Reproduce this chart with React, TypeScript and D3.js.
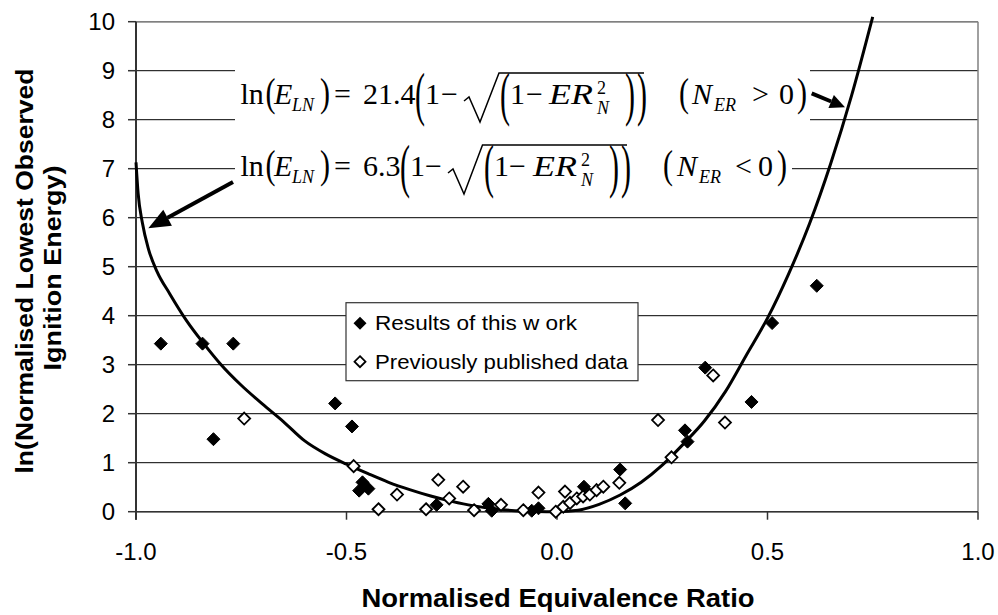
import * as d3 from "d3";

// ln(normalised lowest observed ignition energy) vs normalised equivalence ratio
const W = 998;
const H = 615;

const xTicks = [-1, -0.5, 0, 0.5, 1];
const xTickLabels = ["-1.0", "-0.5", "0.0", "0.5", "1.0"];
const yTicks = [0, 1, 2, 3, 4, 5, 6, 7, 8, 9, 10];

// Results of this work (filled diamonds)
const workX = [-0.941, -0.842, -0.769, -0.816, -0.527, -0.487, -0.462, -0.47, -0.448, -0.286, -0.163, -0.155, -0.06, -0.044, 0.064, 0.15, 0.162, 0.304, 0.31, 0.352, 0.462, 0.511, 0.617];
const workY = [3.43, 3.43, 3.43, 1.48, 2.21, 1.74, 0.6, 0.43, 0.47, 0.14, 0.16, 0.02, 0.02, 0.07, 0.51, 0.86, 0.17, 1.66, 1.43, 2.94, 2.24, 3.85, 4.61];

// Previously published data (open diamonds)
const pubX = [-0.743, -0.483, -0.424, -0.38, -0.311, -0.282, -0.256, -0.223, -0.197, -0.133, -0.08, -0.044, -0.003, 0.015, 0.019, 0.031, 0.047, 0.062, 0.078, 0.094, 0.11, 0.148, 0.24, 0.272, 0.371, 0.399];
const pubY = [1.9, 0.93, 0.05, 0.35, 0.05, 0.65, 0.27, 0.51, 0.03, 0.14, 0.03, 0.39, 0.0, 0.1, 0.41, 0.18, 0.27, 0.31, 0.35, 0.44, 0.51, 0.59, 1.87, 1.11, 2.78, 1.82];

// fitted curve as drawn
const curveX = [-1.0, -0.995, -0.985, -0.97, -0.95, -0.92, -0.88, -0.84, -0.8, -0.75, -0.7, -0.65, -0.6, -0.55, -0.5, -0.45, -0.4, -0.35, -0.3, -0.25, -0.2, -0.15, -0.1, -0.05, 0, 0.05, 0.1, 0.15, 0.2, 0.25, 0.3, 0.35, 0.4, 0.45, 0.5, 0.55, 0.6, 0.65, 0.7, 0.75];
const curveY = [7.13, 6.5, 5.9, 5.35, 4.9, 4.45, 3.9, 3.44, 3.02, 2.58, 2.2, 1.84, 1.45, 1.18, 0.97, 0.78, 0.6, 0.45, 0.32, 0.21, 0.12, 0.06, 0.02, 0.005, 0, 0.03, 0.15, 0.34, 0.6, 0.95, 1.38, 1.85, 2.45, 3.2, 3.95, 4.85, 5.88, 7.1, 8.5, 10.1];

const legendLabels = ["Results of this w ork", "Previously published data"];

const SANS = "'Liberation Sans', Arial, sans-serif";
const SERIF = "'Liberation Serif', 'Times New Roman', serif";

const x = d3.scaleLinear().domain([-1, 1]).range([136, 978]);
const y = d3.scaleLinear().domain([0, 10]).range([511.7, 21.7]);

function diamond(cx: number, cy: number, r: number) {
  return `M${cx},${cy - r}L${cx + r},${cy}L${cx},${cy + r}L${cx - r},${cy}Z`;
}

function arrowHead(x0: number, y0: number, tx: number, ty: number, len: number, hw: number) {
  const dx = tx - x0;
  const dy = ty - y0;
  const d = Math.hypot(dx, dy);
  const ux = dx / d;
  const uy = dy / d;
  const bx = tx - ux * len;
  const by = ty - uy * len;
  return {
    bx,
    by,
    pts: `${tx},${ty} ${bx - uy * hw},${by + ux * hw} ${bx + uy * hw},${by - ux * hw}`,
  };
}

function Arrow({ x0, y0, tx, ty, len, hw }: { x0: number; y0: number; tx: number; ty: number; len: number; hw: number }) {
  const a = arrowHead(x0, y0, tx, ty, len, hw);
  return (
    <g>
      <line x1={x0} y1={y0} x2={a.bx} y2={a.by} stroke="#000" strokeWidth={4} />
      <polygon points={a.pts} fill="#000" />
    </g>
  );
}

// stretched parenthesis centred at cy
function Paren({ ch, px, cy, s }: { ch: string; px: number; cy: number; s: number }) {
  return (
    <text transform={`translate(${px},${cy}) scale(1,${s})`} y={7.5} fontFamily={SERIF} fontSize={30}>
      {ch}
    </text>
  );
}

type EqLayout = {
  B: number;
  coef: string;
  coefX: number;
  p1: number; one1: number; minus1: number;
  rad: number[]; // start, bottom, top, barEnd
  p2: number; one2: number; minus2: number; er: number; sup: number;
  c1: number; c2: number;
  p3: number; n: number; nsub: number; op: string; opX: number; zero: number; c3: number;
};

function Equation({ L }: { L: EqLayout }) {
  const B = L.B;
  const t = (s: string, px: number, opts: { italic?: boolean; size?: number; dy?: number; len?: number } = {}) => (
    <text
      x={px}
      y={B + (opts.dy ?? 0)}
      fontFamily={SERIF}
      fontSize={opts.size ?? 30}
      fontStyle={opts.italic ? "italic" : "normal"}
      textLength={opts.len}
      lengthAdjust={opts.len ? "spacingAndGlyphs" : undefined}
    >
      {s}
    </text>
  );
  const [r0, r1, r2, r3] = L.rad;
  return (
    <g>
      {t("ln", 240.5)}
      <Paren ch="(" px={265.5} cy={B - 8} s={1.3} />
      {t("E", 274, { italic: true })}
      {t("LN", 292, { italic: true, size: 18, dy: 7 })}
      <Paren ch=")" px={320} cy={B - 8} s={1.3} />
      {t("=", 334)}
      {t(L.coef, L.coefX)}
      <Paren ch="(" px={L.p1} cy={B - 5} s={2} />
      {t("1", L.one1)}
      {t("\u2212", L.minus1)}
      <path
        d={`M${r0},${B - 3}L${r0 + 5},${B - 7}L${r1},${B + 18}L${r2},${B - 31}H${r3}`}
        fill="none"
        stroke="#000"
        strokeWidth={1.5}
      />
      <Paren ch="(" px={L.p2} cy={B - 5} s={2} />
      {t("1", L.one2)}
      {t("\u2212", L.minus2)}
      {t("ER", L.er, { italic: true, len: 44 })}
      {t("2", L.sup, { size: 18, dy: -10 })}
      {t("N", L.sup, { italic: true, size: 18, dy: 10 })}
      <Paren ch=")" px={L.c1} cy={B - 5} s={2} />
      <Paren ch=")" px={L.c2} cy={B - 5} s={2} />
      <Paren ch="(" px={L.p3} cy={B - 8} s={1.3} />
      {t("N", L.n, { italic: true })}
      {t("ER", L.nsub, { italic: true, size: 18, dy: 7 })}
      {t(L.op, L.opX)}
      {t("0", L.zero)}
      <Paren ch=")" px={L.c3} cy={B - 8} s={1.3} />
    </g>
  );
}

const eq1: EqLayout = {
  B: 104, coef: "21.4", coefX: 363,
  p1: 415, one1: 425, minus1: 441,
  rad: [464, 480, 499, 644],
  p2: 500, one2: 510, minus2: 526, er: 549, sup: 597,
  c1: 625, c2: 637,
  p3: 679, n: 692, nsub: 714, op: ">", opX: 752, zero: 779, c3: 797,
};

const eq2: EqLayout = {
  B: 176, coef: "6.3", coefX: 363,
  p1: 400, one1: 410, minus1: 425,
  rad: [448, 464, 482.5, 627],
  p2: 484, one2: 494, minus2: 509, er: 533, sup: 581,
  c1: 609, c2: 621,
  p3: 663, n: 677, nsub: 699, op: "<", opX: 735, zero: 758, c3: 777,
};

export default function App() {
  const line = d3
    .line<number>()
    .x((_, i) => x(curveX[i]))
    .y((_, i) => y(curveY[i]))
    .curve(d3.curveMonotoneX);
  const pathD = line(curveX) ?? "";

  return (
    <svg
      width={W}
      height={H}
      viewBox={`0 0 ${W} ${H}`}
      style={{ position: "absolute", left: 0, top: 0, background: "#fff" }}
    >
      <rect x={0} y={0} width={W} height={H} fill="#fff" />
      {/* gridlines */}
      {yTicks.map((v) => (
        <line key={v} x1={x(-1)} x2={x(1)} y1={y(v)} y2={y(v)} stroke="#000" strokeWidth={1} />
      ))}
      {/* plot border top/right */}
      <line x1={x(-1)} x2={x(1)} y1={y(10)} y2={y(10)} stroke="#808080" strokeWidth={1.5} />
      <line x1={x(1)} x2={x(1)} y1={y(10)} y2={y(0)} stroke="#808080" strokeWidth={1.5} />
      {/* equation backgrounds */}
      <rect x={235} y={45} width={575} height={95} fill="#fff" />
      <rect x={235} y={145} width={557} height={48} fill="#fff" />
      {/* axes */}
      <line x1={x(-1)} x2={x(1)} y1={y(0)} y2={y(0)} stroke="#333" strokeWidth={1.5} />
      <line x1={x(-1)} x2={x(-1)} y1={y(10)} y2={y(0) + 8} stroke="#333" strokeWidth={2} />
      {yTicks.map((v) => (
        <line key={v} x1={x(-1) - 8} x2={x(-1)} y1={y(v)} y2={y(v)} stroke="#333" strokeWidth={1.5} />
      ))}
      {xTicks.map((v) => (
        <line key={v} x1={x(v)} x2={x(v)} y1={y(0)} y2={y(0) + 8} stroke="#333" strokeWidth={1.5} />
      ))}
      {yTicks.map((v) => (
        <text key={v} x={115} y={y(v)} dy="0.36em" textAnchor="end" fontFamily={SANS} fontSize={24}>
          {v}
        </text>
      ))}
      {xTicks.map((v, i) => (
        <text key={v} x={x(v)} y={560} textAnchor="middle" fontFamily={SANS} fontSize={24}>
          {xTickLabels[i]}
        </text>
      ))}
      {/* axis titles */}
      <text x={558} y={607} textAnchor="middle" fontFamily={SANS} fontSize={25} fontWeight="bold" textLength={393} lengthAdjust="spacingAndGlyphs">
        Normalised Equivalence Ratio
      </text>
      <text transform="translate(33,271) rotate(-90)" textAnchor="middle" fontFamily={SANS} fontSize={24} fontWeight="bold" textLength={405} lengthAdjust="spacingAndGlyphs">
        ln(Normalised Lowest Observed
      </text>
      <text transform="translate(61,268) rotate(-90)" textAnchor="middle" fontFamily={SANS} fontSize={24} fontWeight="bold" textLength={205} lengthAdjust="spacingAndGlyphs">
        Ignition Energy)
      </text>

      {/* fitted curve */}
      <path d={pathD} fill="none" stroke="#000" strokeWidth={3} strokeLinejoin="round" />

      {/* data */}
      {workX.map((v, i) => (
        <path key={`w${i}`} d={diamond(x(v), y(workY[i]), 6.5)} fill="#000" stroke="#000" strokeWidth={1} />
      ))}
      {pubX.map((v, i) => (
        <path key={`p${i}`} d={diamond(x(v), y(pubY[i]), 6)} fill="#fff" stroke="#000" strokeWidth={1.8} />
      ))}

      {/* legend */}
      <rect x={346} y={302.7} width={292} height={78} fill="#fff" stroke="#333" strokeWidth={1.2} />
      <path d={diamond(360, 323.3, 6.5)} fill="#000" />
      <path d={diamond(360, 361.7, 5.5)} fill="#fff" stroke="#000" strokeWidth={1.8} />
      <text x={375} y={330} fontFamily={SANS} fontSize={21} textLength={202} lengthAdjust="spacingAndGlyphs">
        {legendLabels[0]}
      </text>
      <text x={375} y={369} fontFamily={SANS} fontSize={21} textLength={253} lengthAdjust="spacingAndGlyphs">
        {legendLabels[1]}
      </text>

      {/* equations */}
      <Equation L={eq1} />
      <Equation L={eq2} />

      {/* arrows */}
      <Arrow x0={233} y0={182} tx={148.3} ty={228.3} len={22} hw={9} />
      <Arrow x0={811.7} y0={93.3} tx={845} ty={107.3} len={15} hw={7} />
    </svg>
  );
}
